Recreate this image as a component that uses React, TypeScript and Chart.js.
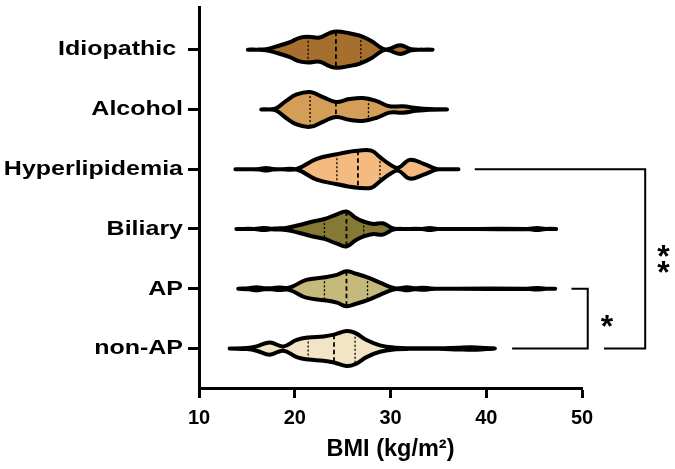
import React, { useEffect, useRef } from 'react';
import { Chart, registerables } from 'chart.js';

Chart.register(...registerables);

const categories = ['Idiopathic ', 'Alcohol', 'Hyperlipidemia', 'Biliary', 'AP', 'non-AP'];
const fillColors = ['#A66F2D', '#D49E58', '#F4BA80', '#857936', '#C6B97C', '#F1E5C6'];

// Violin profiles: BMI positions and relative density (half-width)
const idiopathicBmi = [15.1, 16.0, 17.0, 18.1, 19.5, 20.5, 21.4, 22.6, 23.7, 24.4, 25.7, 26.8, 28.0, 29.1, 29.7, 31.0, 32.2, 33.4, 34.4];
const idiopathicDensity = [0, 0, 0.5, 3, 7, 11, 12, 11.3, 15.7, 17, 15.3, 13, 8, 1.3, 0.3, 4, 0.5, 0, 0];

const alcoholBmi = [16.5, 17.3, 18.1, 19.1, 20.2, 21.6, 23.0, 24.3, 25.7, 27.1, 28.5, 29.9, 31.3, 32.7, 34.1, 35.9];
const alcoholDensity = [0, 0, 1.3, 8, 14, 16.3, 11.3, 7, 9.7, 10.7, 8, 3, 3, 1.3, 0.3, 0];

const hyperBmi = [13.8, 15.5, 16.3, 17.0, 17.7, 18.5, 20.2, 22.3, 24.4, 25.7, 26.6, 28.0, 28.9, 29.9, 30.8, 32.0, 33.4, 34.8, 35.5, 37.1];
const hyperDensity = [0, 0, 0.3, 1.2, 0.3, 0, 0.3, 9.7, 14, 16.3, 17.3, 17.3, 11.3, 4.7, 1.3, 8.7, 5.3, 0.3, 0, 0];

const biliaryBmi = [13.9, 15.8, 16.7, 17.5, 18.1, 19.1, 20.5, 21.9, 23.1, 24.4, 25.4, 26.4, 27.2, 28.2, 29.2, 30.3, 31.7, 33.3, 34.1, 34.9, 36.0, 44.3, 45.3, 46.2, 47.3];
const biliaryDensity = [0, 0, 1, 0.3, 0.5, 1, 3.7, 7, 9.3, 13.7, 16.3, 10.3, 7, 4.7, 5.3, 0.5, 0, 0, 1, 0, 0, 0, 1, 0, 0];

const apBmi = [14.1, 15.2, 16.0, 16.8, 17.6, 18.4, 19.2, 19.8, 21.2, 23.1, 24.4, 25.4, 26.4, 27.6, 28.9, 30.3, 31.0, 31.7, 32.5, 33.4, 34.2, 34.8, 44.3, 45.3, 46.2, 47.2];
const apDensity = [0, 0.5, 1.5, 0.5, 0.5, 1.2, 0.8, 2.3, 8.3, 10.7, 13, 16.3, 14, 10.7, 5.7, 0.7, 0.5, 1.5, 0.5, 1, 0.3, 0, 0, 0.8, 0, 0];

const nonApBmi = [13.2, 15.0, 16.0, 17.4, 18.8, 20.2, 21.4, 23.0, 24.1, 25.4, 26.3, 27.5, 28.9, 30.6, 32.0, 35.0, 37.0, 38.5, 40.0, 40.9];
const nonApDensity = [0, 0.5, 2, 5.7, 2, 8, 10.3, 11.3, 13, 16.3, 14.7, 8, 3, 0.7, 0.3, 0.3, 0.8, 1.2, 0.5, 0];

const profileBmi = [idiopathicBmi, alcoholBmi, hyperBmi, biliaryBmi, apBmi, nonApBmi];
const profileDensity = [idiopathicDensity, alcoholDensity, hyperDensity, biliaryDensity, apDensity, nonApDensity];

const q1Values = [21.4, 21.6, 24.4, 23.1, 23.1, 21.4];
const medianValues = [24.3, 24.3, 26.6, 25.4, 25.4, 24.1];
const q3Values = [26.9, 27.7, 28.9, 27.2, 27.6, 26.3];

const xTicks = [10, 20, 30, 40, 50];

// significance brackets (BMI, category index)
const bracketOuterX = [38.8, 56.6, 56.6, 52.3];
const bracketOuterY = [2, 2, 5, 5];
const bracketInnerX = [48.9, 50.6, 50.6, 42.7];
const bracketInnerY = [4, 4, 5, 5];

const starText = ['*', '*', '*'];
const starX = [52.6, 58.5, 58.5];
const starY = [4.5, 3.34, 3.61];

const DENSITY_TO_CATEGORY = 1.08 / 60.3;
const FONT = '"Liberation Sans", Arial, sans-serif';

function densityAt(bmi: number[], dens: number[], x: number) {
  for (let i = 0; i < bmi.length - 1; i++) {
    if (x >= bmi[i] && x <= bmi[i + 1]) {
      const t = (x - bmi[i]) / (bmi[i + 1] - bmi[i]);
      return dens[i] + t * (dens[i + 1] - dens[i]);
    }
  }
  return 0;
}

function violinPolygon(bmi: number[], dens: number[], idx: number) {
  const up = bmi.map((x, i) => ({ x, y: idx - dens[i] * DENSITY_TO_CATEGORY }));
  const down = bmi.map((x, i) => ({ x, y: idx + dens[i] * DENSITY_TO_CATEGORY })).reverse().slice(1);
  return up.concat(down);
}

const textPlugin = {
  id: 'textPlugin',
  afterDraw(chart: any) {
    const ctx = chart.ctx;
    const ys = chart.scales.y;
    const xs = chart.scales.x;
    ctx.save();
    ctx.fillStyle = '#000';
    ctx.font = `bold 21px ${FONT}`;
    ctx.textAlign = 'right';
    ctx.textBaseline = 'middle';
    categories.forEach((c, i) => {
      const y = ys.getPixelForValue(i);
      ctx.save();
      ctx.translate(ys.right - 16, y);
      ctx.scale(1.19, 1);
      ctx.fillText(c, 0, 0);
      ctx.restore();
    });
    const size = 32;
    ctx.font = `bold ${size}px ${FONT}`;
    ctx.textAlign = 'center';
    ctx.textBaseline = 'alphabetic';
    starText.forEach((t, i) => {
      const px = xs.getPixelForValue(starX[i]);
      const py = ys.getPixelForValue(starY[i]);
      ctx.fillText(t, px, py + 0.56 * size);
    });
    ctx.restore();
  },
};

export default function App() {
  const ref = useRef<HTMLCanvasElement>(null);
  useEffect(() => {
    if (!ref.current) return;
    const datasets: any[] = [];
    categories.forEach((c, i) => {
      datasets.push({
        label: c,
        data: violinPolygon(profileBmi[i], profileDensity[i], i),
        borderColor: '#000',
        borderWidth: 4,
        backgroundColor: fillColors[i],
        fill: 'shape',
        tension: 0.4,
        pointRadius: 0,
        borderJoinStyle: 'round',
        borderCapStyle: 'round',
        capBezierPoints: false,
        order: 3,
      });
    });
    categories.forEach((c, i) => {
      const quart = [
        { v: q1Values[i], dash: [2, 2], w: 1.3 },
        { v: medianValues[i], dash: [4.5, 3], w: 1.8 },
        { v: q3Values[i], dash: [2, 2], w: 1.3 },
      ];
      quart.forEach((q) => {
        const h = densityAt(profileBmi[i], profileDensity[i], q.v) * DENSITY_TO_CATEGORY;
        datasets.push({
          label: c + ' q',
          data: [{ x: q.v, y: i - h }, { x: q.v, y: i + h }],
          borderColor: '#000',
          borderWidth: q.w,
          borderDash: q.dash,
          pointRadius: 0,
          fill: false,
          tension: 0,
          order: 1,
        });
      });
    });
    [
      [bracketOuterX, bracketOuterY],
      [bracketInnerX, bracketInnerY],
    ].forEach(([bx, by]) => {
      datasets.push({
        label: 'bracket',
        data: bx.map((x, k) => ({ x, y: by[k] })),
        borderColor: '#000',
        borderWidth: 2,
        pointRadius: 0,
        fill: false,
        tension: 0,
        clip: false,
        order: 1,
      });
    });

    const chart = new Chart(ref.current, {
      type: 'line',
      data: { datasets },
      plugins: [textPlugin],
      options: {
        animation: false,
        responsive: false,
        devicePixelRatio: 1,
        layout: { padding: { top: 4, right: 93, left: 0, bottom: 0 } },
        plugins: { legend: { display: false }, tooltip: { enabled: false } },
        events: [],
        scales: {
          x: {
            type: 'linear',
            min: 10,
            max: 50,
            afterBuildTicks: (s: any) => {
              s.ticks = xTicks.map((v) => ({ value: v }));
            },
            afterFit: (s: any) => {
              s.height = 81;
            },
            grid: { drawOnChartArea: false, drawTicks: true, tickLength: 10, tickWidth: 3, tickColor: '#000' },
            border: { display: true, color: '#000', width: 3 },
            ticks: { color: '#000', font: { family: FONT, size: 20, weight: 'bold' }, padding: 8, maxRotation: 0 },
            title: {
              display: true,
              text: 'BMI (kg/m²)',
              color: '#000',
              font: { family: FONT, size: 23.5, weight: 'bold' },
              padding: { top: 0, bottom: 5 },
            },
          },
          y: {
            type: 'linear',
            reverse: true,
            min: -0.71,
            max: 5.66,
            afterBuildTicks: (s: any) => {
              s.ticks = categories.map((_, i) => ({ value: i }));
            },
            afterFit: (s: any) => {
              s.width = 199;
            },
            grid: { drawOnChartArea: false, drawTicks: true, tickLength: 11, tickWidth: 3, tickColor: '#000' },
            border: { display: true, color: '#000', width: 3 },
            ticks: { callback: () => '', padding: 0 },
          },
        },
      } as any,
    });
    return () => chart.destroy();
  }, []);
  return (
    <canvas
      ref={ref}
      width={675}
      height={469}
      style={{ position: 'fixed', left: 0, top: 0, width: 675, height: 469 }}
    />
  );
}
